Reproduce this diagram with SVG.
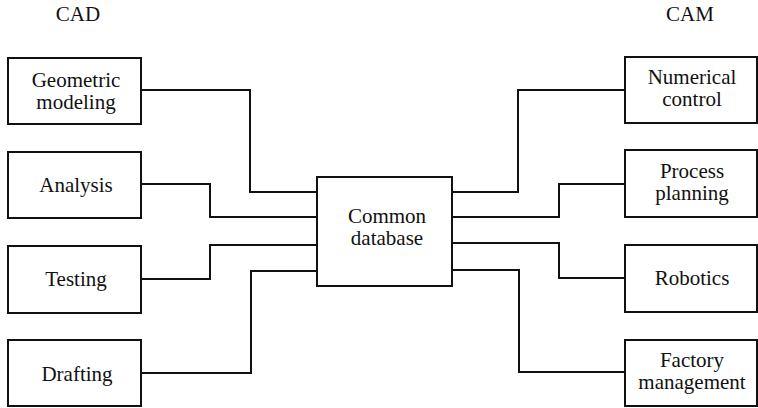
<svg xmlns="http://www.w3.org/2000/svg" width="758" height="408" viewBox="0 0 758 408">
<style>
.box{fill:#fff;stroke:#111;stroke-width:2}
.ln{fill:none;stroke:#111;stroke-width:2}
text{font-family:'Liberation Serif','DejaVu Serif',serif;font-size:21px;fill:#111;text-anchor:middle}
</style>
<rect width="758" height="408" fill="#fff"/>
<text x="78" y="21">CAD</text>
<text x="690" y="21">CAM</text>
<g id="connectors">
<polyline class="ln" points="141,90 250,90 250,192 317,192"/>
<polyline class="ln" points="141,184 210,184 210,217 317,217"/>
<polyline class="ln" points="141,279 210,279 210,245 317,245"/>
<polyline class="ln" points="141,373 251,373 251,271 317,271"/>
<polyline class="ln" points="452,192 518,192 518,90 625,90"/>
<polyline class="ln" points="452,217 559,217 559,184 625,184"/>
<polyline class="ln" points="452,243 559,243 559,278 625,278"/>
<polyline class="ln" points="452,270 519,270 519,372 625,372"/>
</g>
<g id="geometric-modeling"><rect class="box" x="8" y="58" width="133" height="66"/><text x="76" y="87">Geometric</text><text x="76" y="109">modeling</text></g>
<g id="analysis"><rect class="box" x="8" y="152" width="133" height="66"/><text x="76" y="192">Analysis</text></g>
<g id="testing"><rect class="box" x="8" y="246" width="133" height="67"/><text x="76" y="286">Testing</text></g>
<g id="drafting"><rect class="box" x="8" y="340" width="133" height="66"/><text x="77" y="381">Drafting</text></g>
<g id="common-database"><rect class="box" x="317" y="177" width="135" height="109"/><text x="387" y="223">Common</text><text x="387" y="245">database</text></g>
<g id="numerical-control"><rect class="box" x="625" y="57" width="132" height="66"/><text x="692" y="84">Numerical</text><text x="692" y="106">control</text></g>
<g id="process-planning"><rect class="box" x="625" y="150" width="132" height="67"/><text x="692" y="178">Process</text><text x="692" y="200">planning</text></g>
<g id="robotics"><rect class="box" x="625" y="245" width="132" height="67"/><text x="692" y="285">Robotics</text></g>
<g id="factory-management"><rect class="box" x="625" y="340" width="132" height="66"/><text x="692" y="367">Factory</text><text x="692" y="389">management</text></g>
</svg>
